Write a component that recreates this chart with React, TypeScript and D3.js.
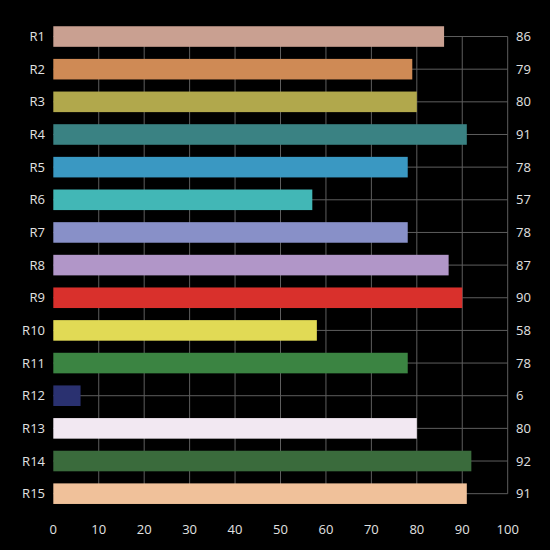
import * as React from "react"
import * as d3 from "d3"

const categories = ["R1", "R2", "R3", "R4", "R5", "R6", "R7", "R8", "R9", "R10", "R11", "R12", "R13", "R14", "R15"]
const values = [86, 79, 80, 91, 78, 57, 78, 87, 90, 58, 78, 6, 80, 92, 91]
const colors = [
  "#c9a091", "#cf8a55", "#b1a84c", "#3a8283", "#3a98c2", "#42b7b6", "#8890c8", "#b196c8",
  "#d9302c", "#e1da55", "#3b8442", "#2a3170", "#f2e8f2", "#3a6b3c", "#f0c19a",
]
const xTicks = [0, 10, 20, 30, 40, 50, 60, 70, 80, 90, 100]

const width = 550
const height = 550

export default function App() {
  const x = d3.scaleLinear().domain([0, 100]).range([53.3, 507.7])
  const y = d3.scaleBand<string>().domain(categories).range([20.2, 510]).paddingInner(0.37).paddingOuter(0.185)
  const bw = y.bandwidth()
  const center = (c: string) => (y(c) ?? 0) + bw / 2
  const yTop = center(categories[0])
  const yBottom = center(categories[categories.length - 1])
  const font = "'Open Sans', 'DejaVu Sans', sans-serif"
  const textColor = "#e2e2e2"
  const gridColor = "#5e5e5e"

  return (
    <svg
      width={width}
      height={height}
      style={{ position: "absolute", left: 0, top: 0, display: "block" }}
      fontFamily={font}
    >
      <rect width={width} height={height} fill="#000" />
      {/* vertical gridlines */}
      {xTicks.slice(1).map((t) => (
        <line key={"v" + t} x1={x(t)} x2={x(t)} y1={yTop} y2={yBottom} stroke={gridColor} strokeWidth={1} />
      ))}
      {/* horizontal gridlines at category centers */}
      {categories.map((c) => (
        <line key={"h" + c} x1={x(0)} x2={x(100)} y1={center(c)} y2={center(c)} stroke={gridColor} strokeWidth={1} />
      ))}
      {/* bars */}
      {categories.map((c, i) => (
        <rect key={"b" + c} x={x(0)} y={y(c)} width={x(values[i]) - x(0)} height={bw} fill={colors[i]} />
      ))}
      {/* category labels */}
      {categories.map((c) => (
        <text key={"l" + c} x={45} y={center(c)} dy="0.35em" textAnchor="end" fill={textColor} fontSize={13}>
          {c}
        </text>
      ))}
      {/* value labels */}
      {categories.map((c, i) => (
        <text key={"r" + c} x={516} y={center(c)} dy="0.35em" textAnchor="start" fill={textColor} fontSize={13}>
          {values[i]}
        </text>
      ))}
      {/* x tick labels */}
      {xTicks.map((t) => (
        <text key={"t" + t} x={x(t)} y={529} dy="0.35em" textAnchor="middle" fill={textColor} fontSize={13}>
          {t}
        </text>
      ))}
    </svg>
  )
}
